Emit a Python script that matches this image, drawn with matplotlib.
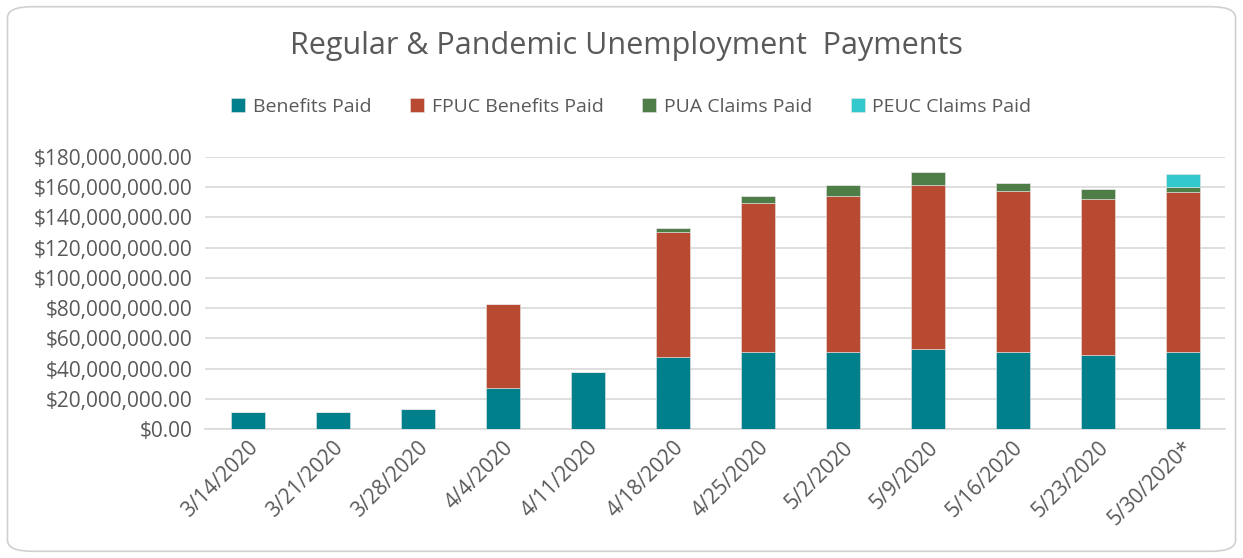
import matplotlib.pyplot as plt
import numpy as np
from matplotlib.patches import FancyBboxPatch
from matplotlib.ticker import FuncFormatter

plt.rcParams['font.family'] = ['Open Sans', 'DejaVu Sans']

weeks = ['3/14/2020', '3/21/2020', '3/28/2020', '4/4/2020', '4/11/2020', '4/18/2020',
         '4/25/2020', '5/2/2020', '5/9/2020', '5/16/2020', '5/23/2020', '5/30/2020*']
# millions of dollars
benefits = [11.0, 11.0, 13.2, 27.3, 37.5, 47.9, 51.0, 51.0, 52.9, 51.0, 48.8, 51.0]
fpuc = [0, 0, 0, 55.4, 0, 82.7, 98.4, 103.4, 108.8, 106.5, 103.6, 105.6]
pua = [0, 0, 0, 0, 0, 2.2, 5.0, 7.3, 8.2, 5.1, 6.2, 3.8]
peuc = [0, 0, 0, 0, 0, 0, 0, 0, 0, 0, 0, 8.4]

series = [('Benefits Paid', benefits, '#00808a'),
          ('FPUC Benefits Paid', fpuc, '#b84a32'),
          ('PUA Claims Paid', pua, '#4f7d48'),
          ('PEUC Claims Paid', peuc, '#33c9cc')]

gray = '#595959'
fig = plt.figure(figsize=(12.43, 5.58), dpi=100)
ax = fig.add_axes([205 / 1243, 1 - 429 / 558, 1020 / 1243, 272 / 558])

x = np.arange(len(weeks))
bottom = np.zeros(len(weeks))
for name, vals, col in series:
    v = np.array(vals) * 1e6
    ax.bar(x, v, 0.4, bottom=bottom, color=col, label=name,
           edgecolor='#e6e6e6', linewidth=0.4, zorder=3)
    bottom += v

ax.set_xlim(-0.5, len(weeks) - 0.5)
ax.set_ylim(0, 180e6)
ax.set_yticks(np.arange(0, 180e6 + 1, 20e6))
ax.yaxis.set_major_formatter(FuncFormatter(lambda v, p: '${:,.2f}'.format(v)))
ax.grid(axis='y', color='#d9d9d9', linewidth=1.2, zorder=0)
for s in ['top', 'right', 'left']:
    ax.spines[s].set_visible(False)
ax.spines['bottom'].set_color('#d9d9d9')
ax.spines['bottom'].set_linewidth(1.2)
ax.tick_params(length=0, colors=gray, labelsize=15)
ax.tick_params(axis='y', pad=9)
ax.tick_params(axis='x', pad=6)
ax.set_xticks(x)
ax.set_xticklabels(weeks, rotation=45, ha='right', rotation_mode='anchor')

fig.text(0.504, 1 - 46 / 558, 'Regular & Pandemic Unemployment  Payments',
         ha='center', va='center', fontsize=22, color=gray)
fig.legend(loc='center', bbox_to_anchor=(0.508, 1 - 107 / 558), ncol=4, frameon=False,
           fontsize=14, labelcolor=gray, handlelength=0.7, handleheight=0.7,
           handletextpad=0.4, columnspacing=2.0)

fig.patches.append(FancyBboxPatch((0.006, 0.012), 0.988, 0.976,
                                  boxstyle='round,pad=0,rounding_size=0.02',
                                  transform=fig.transFigure, fill=False,
                                  edgecolor='#d0d0d0', linewidth=1.2))

fig.savefig('out.png', dpi=100)
